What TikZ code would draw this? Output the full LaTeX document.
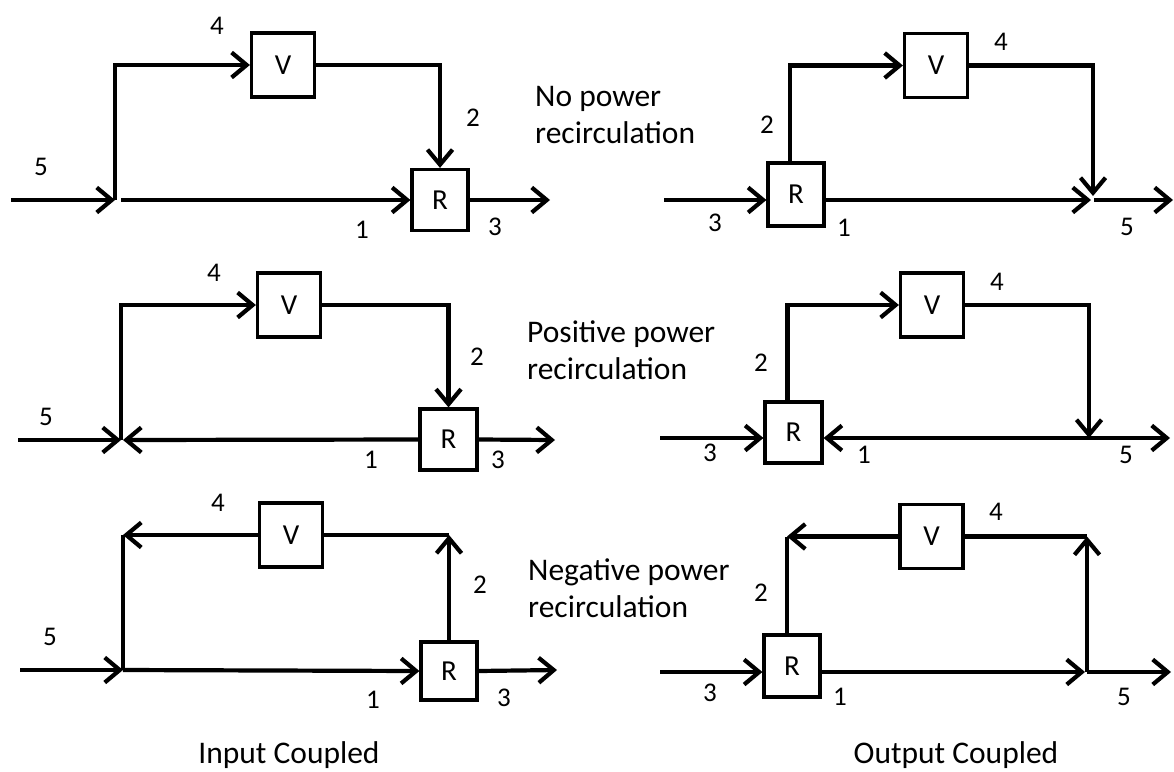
\documentclass[tikz,border=0pt]{standalone}
\usepackage{fontspec}
\setmainfont{Carlito}
\usetikzlibrary{arrows.meta,calc}
\begin{document}
\begin{tikzpicture}[x=1pt,y=-1pt,
  blk/.style={draw, line width=3.2pt, inner sep=0pt, fill=white, font=\fontsize{29}{32}\selectfont},
  vbox/.style={blk, minimum width=63pt, minimum height=64pt},
  rbox/.style={blk, minimum width=56pt, minimum height=61pt},
  wire/.style={line width=4.2pt},
  flow/.style={wire, -{Straight Barb[length=15pt,width=25pt]}},
  num/.style={font=\fontsize{27}{30}\selectfont, inner sep=0pt},
  caption/.style={font=\fontsize{31.5}{37}\selectfont, align=left, inner sep=0pt, anchor=west},
  title/.style={font=\fontsize{31.5}{36}\selectfont, inner sep=0pt}]
\fill[white] (0,0) rectangle (1174,771);
\useasboundingbox (0,0) rectangle (1174,771);

% ---------- Input coupled, no power recirculation ----------
\node[vbox] (V1) at (283,65) {V};
\node[rbox] (R1) at (440,200) {R};
\coordinate (in1) at (11,200);
\coordinate (j1) at (115,200);
\coordinate (out1) at (550,200);
\draw[flow] (in1) -- (j1);
\draw[flow] (j1) |- (V1.west);
\draw[flow] (V1.east) -| (R1.north);
\draw[flow] ([xshift=6pt]j1) -- (R1.west);
\draw[flow] (R1.east) -- (out1);
\node[num] (a4) at (217,26) {4};
\node[num] (a5) at (41,167) {5};
\node[num] (a2) at (473,118) {2};
\node[num] (a1) at (362,230) {1};
\node[num] (a3) at (495,227) {3};

% ---------- Output coupled, no power recirculation ----------
\node[rbox, minimum height=63pt] (R2) at (796,194.5) {R};
\node[vbox] (V2) at (936,65.5) {V};
\coordinate (in2) at (664,200);
\coordinate (k2) at (1093,200);
\coordinate (out2) at (1173,200);
\draw[flow] (in2) -- (in2 -| R2.west);
\draw[flow] ([xshift=-6pt]R2.north) |- (V2.west);
\draw[flow] (V2.east) -| ([yshift=4pt]k2);
\draw[flow] (k2 -| R2.east) -- ([xshift=-2pt]k2);
\draw[flow] ([xshift=1pt]k2) -- (out2);
\node[num] (b4) at (1001,42) {4};
\node[num] (b2) at (767,125) {2};
\node[num] (b3) at (715,223) {3};
\node[num] (b1) at (844,228) {1};
\node[num] (b5) at (1127,227) {5};

% ---------- Input coupled, positive power recirculation ----------
\node[vbox] (V3) at (289,305) {V};
\node[rbox, minimum width=57pt] (R3) at (448.5,439.5) {R};
\coordinate (in3) at (18,440);
\coordinate (j3) at (121,440);
\coordinate (out3) at (555,440);
\draw[flow] (in3) -- (j3);
\draw[flow] (j3) |- (V3.west);
\draw[flow] (V3.east) -| (R3.north);
\draw[flow] (R3.west) -- ([xshift=2pt]j3);
\draw[flow] (R3.east) -- (out3);
\node[num] (c4) at (214,273) {4};
\node[num] (c5) at (46,417) {5};
\node[num] (c2) at (477,357) {2};
\node[num] (c1) at (371,460) {1};
\node[num] (c3) at (498,460) {3};

% ---------- Output coupled, positive power recirculation ----------
\node[rbox, minimum width=57pt] (R4) at (793.5,432.5) {R};
\node[vbox] (V4) at (932,305) {V};
\coordinate (in4) at (660,438);
\coordinate (k4) at (1089,438);
\coordinate (out4) at (1170,438);
\draw[flow] (in4) -- (in4 -| R4.west);
\draw[flow] ([xshift=-6pt]R4.north) |- (V4.west);
\draw[flow] (V4.east) -| (k4);
\draw[flow] (k4) -- (k4 -| R4.east);
\draw[flow] (k4) -- (out4);
\node[num] (d4) at (997,282) {4};
\node[num] (d2) at (761,363) {2};
\node[num] (d3) at (710,453) {3};
\node[num] (d1) at (864,455) {1};
\node[num] (d5) at (1126,455) {5};

% ---------- Input coupled, negative power recirculation ----------
\node[vbox] (V5) at (291,535) {V};
\node[rbox, minimum height=58pt] (R5) at (449,671) {R};
\coordinate (in5) at (20,670);
\coordinate (j5) at (123,670);
\coordinate (out5) at (557,670);
\draw[flow] (in5) -- (j5);
\draw[wire] (j5) -- (j5 |- V5.west);
\draw[flow] (V5.west) -- (V5.west -| j5);
\draw[wire] (V5.east) -- (R5.north |- V5.east);
\draw[flow] (R5.north) -- (R5.north |- V5.east);
\draw[flow] (j5) -- (R5.west);
\draw[flow] (R5.east) -- (out5);
\node[num] (e4) at (218,503) {4};
\node[num] (e5) at (50,637) {5};
\node[num] (e2) at (480,585) {2};
\node[num] (e1) at (373,700) {1};
\node[num] (e3) at (504,698) {3};

% ---------- Output coupled, negative power recirculation ----------
\node[rbox, minimum height=62pt] (R6) at (792,666) {R};
\node[vbox] (V6) at (931.5,536.5) {V};
\coordinate (in6) at (660,672);
\coordinate (k6) at (1087,672);
\coordinate (out6) at (1171,672);
\path ([xshift=-5pt]R6.north) coordinate (b6);
\draw[flow] (in6) -- (in6 -| R6.west);
\draw[wire] (b6) -- (b6 |- V6.west);
\draw[flow] (V6.west) -- (b6 |- V6.west);
\draw[wire] (V6.east) -- (k6 |- V6.east);
\draw[flow] (k6) -- (k6 |- V6.east);
\draw[flow] (R6.east |- k6) -- ([xshift=-2pt]k6);
\draw[flow] (k6) -- (out6);
\node[num] (f4) at (996,512) {4};
\node[num] (f2) at (761,593) {2};
\node[num] (f3) at (710,693) {3};
\node[num] (f1) at (840,697) {1};
\node[num] (f5) at (1124,697) {5};

% ---------- captions ----------
\node[caption] (t1) at (535,115) {No power\\recirculation};
\node[caption] (t2) at (527,350) {Positive power\\recirculation};
\node[caption] (t3) at (528,588) {Negative power\\recirculation};
\node[title] (t4) at (289,755) {Input Coupled};
\node[title] (t5) at (956,755) {Output Coupled};
\end{tikzpicture}
\end{document}
